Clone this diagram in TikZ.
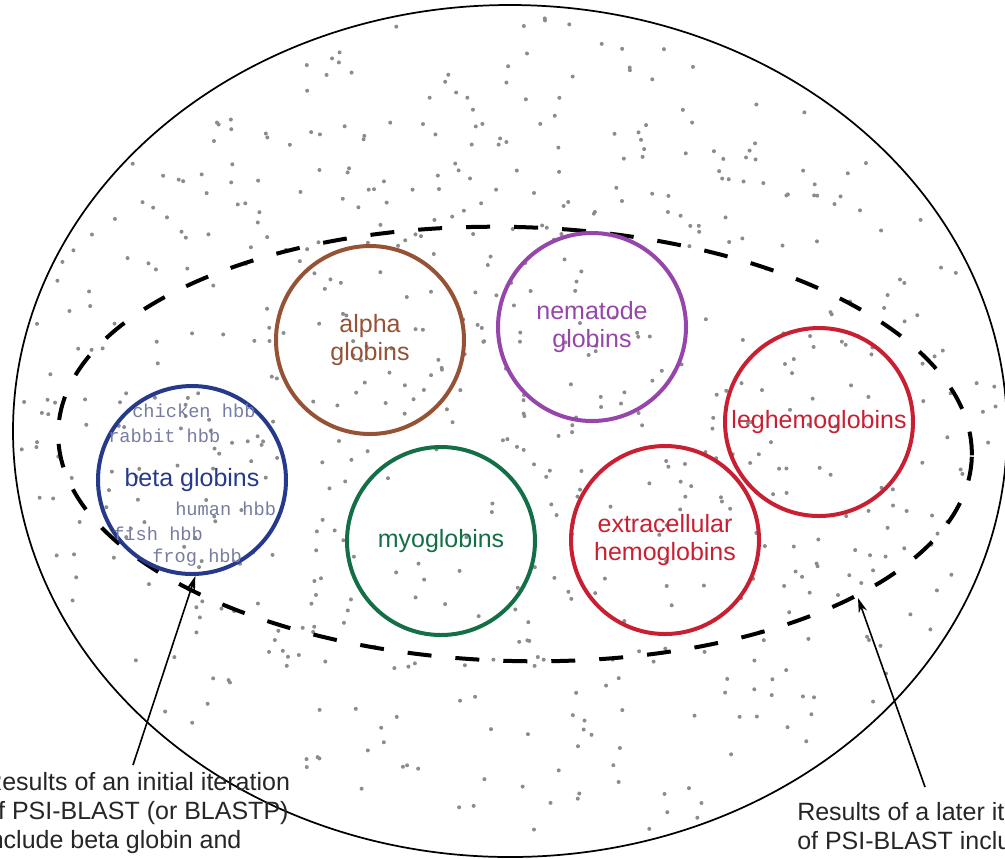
\documentclass[tikz,border=0pt]{standalone}
\usepackage{fontspec}
\setmainfont{Liberation Sans}
\newfontfamily\hbbfont{Liberation Mono}
\usetikzlibrary{arrows.meta}
\definecolor{betac}{RGB}{38,58,140}
\definecolor{hbbc}{RGB}{118,124,162}
\definecolor{alphac}{RGB}{150,82,52}
\definecolor{nemac}{RGB}{150,70,170}
\definecolor{legc}{RGB}{200,32,50}
\definecolor{myoc}{RGB}{20,110,70}
\definecolor{dotc}{RGB}{140,140,140}
\tikzset{ring/.style={draw=#1,text=#1,circle,line width=3pt,minimum size=141pt,inner sep=0pt,align=center,font=\fontsize{18.75}{20.3}\selectfont},
hbb/.style={anchor=base west,inner sep=0pt,text=hbbc,font=\hbbfont\fontsize{14}{14}\selectfont},
note/.style={anchor=north west,inner sep=0pt,align=left,text=black!85,font=\fontsize{18.75}{21.8}\selectfont},
arr/.style={-{Stealth[length=11pt,width=6.5pt]},line width=1.2pt},speck/.style={fill=dotc}}
\begin{document}
\begin{tikzpicture}[x=0.75pt,y=-0.75pt]
\useasboundingbox(0,0)rectangle(1005,858);
\clip(0,0)rectangle(1005,858);
% stipple
\pgfmathsetseed{11}
\foreach\i in{1,...,850}{\pgfmathsetmacro\dotx{13+994*rnd}\pgfmathsetmacro\doty{5+852*rnd}
\pgfmathtruncatemacro\ok{((\dotx-510)/490)^2+((\doty-431)/420)^2<1}
\ifnum\ok=1 \fill[speck](\dotx,\doty)circle[radius=1.5pt];\fi}
\draw[line width=1.3pt](510,431)ellipse[x radius=497,y radius=426];
\draw[line width=3pt,dash pattern=on 18pt off 18pt,rotate around={-1.6:(515,444)}](515,444)ellipse[x radius=457,y radius=217];
% families
\node[ring=betac](beta)at(192,480){beta globins};
\node[ring=alphac](alpha)at(370,340){alpha\\globins};
\node[ring=nemac](nema)at(592,327){nematode\\globins};
\node[ring=legc](leg)at(819,422){leghemoglobins};
\node[ring=myoc](myo)at(441,541){myoglobins};
\node[ring=legc](extra)at(665,540){extracellular\\hemoglobins};
\node[hbb](chick)at(132,417){chicken hbb};\node[hbb](rabbit)at(108,442){rabbit hbb};
\node[hbb](human)at(175,515){human hbb};\node[hbb](fish)at(113,540){fish hbb};
\node[hbb](frog)at(152,562){frog hbb};
% notes
\node[note](first)at(-16,772){Results of an initial iteration\\of PSI-BLAST (or BLASTP)\\include beta globin and};
\node[note](later)at(797,802){Results of a later iteration\\of PSI-BLAST include};
\coordinate(t1)at(133,765);\coordinate(t2)at(925,787);\coordinate(h2)at(858,598);
\draw[arr](t1)--(beta.-88);\draw[arr](t2)--(h2);
\end{tikzpicture}
\end{document}
